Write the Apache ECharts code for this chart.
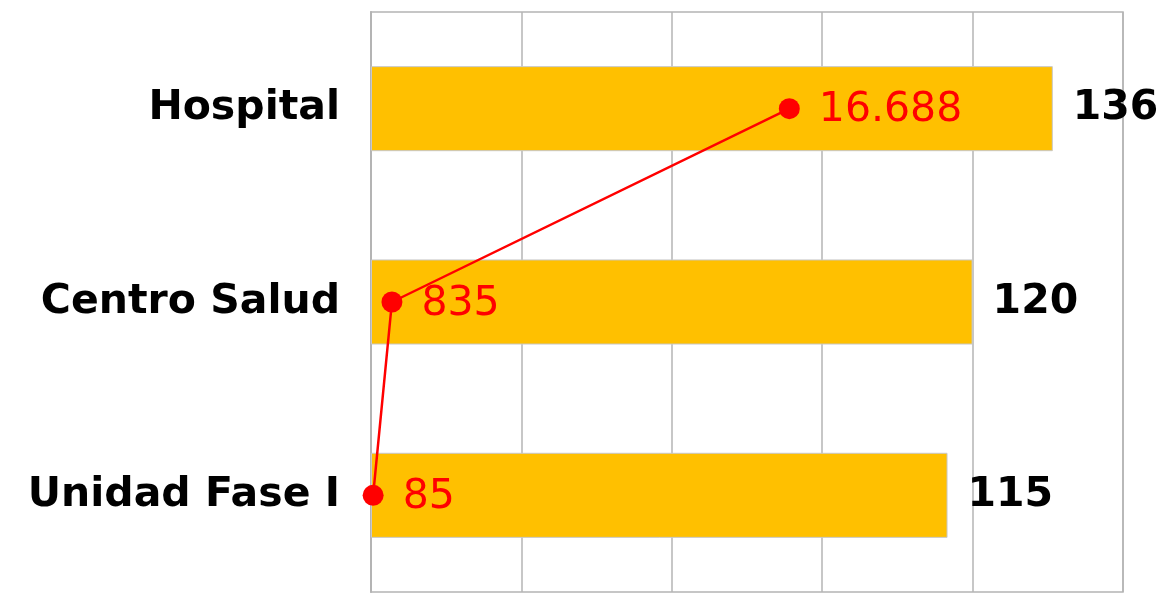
<!DOCTYPE html>
<html>
<head>
<meta charset="utf-8">
<script src="https://cdn.jsdelivr.net/npm/echarts@6/dist/echarts.min.js"></script>
<style>html,body{margin:0;padding:0;background:#fff}#c{width:1163px;height:593px}</style>
</head>
<body>
<div id="c"></div>
<script>
const categories = ['Hospital', 'Centro Salud', 'Unidad Fase I'];
const barValues = [136, 120, 115];
const lineValues = [16688, 835, 85];

function fmtEs(v) {
  return String(v).replace(/\B(?=(\d{3})+(?!\d))/g, '.');
}

const chart = echarts.init(document.getElementById('c'), null, {renderer: 'canvas'});
chart.setOption({
  animation: false,
  backgroundColor: '#ffffff',
  grid: {left: 371, right: 40, top: 12, bottom: 1, show: true, borderColor: '#b4b4b4', borderWidth: 1.5},
  xAxis: [
    {type: 'value', min: 0, max: 150, interval: 30, position: 'bottom',
     axisLabel: {show: false}, axisTick: {show: false}, axisLine: {show: false},
     splitLine: {show: true, lineStyle: {color: '#b4b4b4', width: 1.5}}},
    {type: 'value', min: 0, max: 30000, position: 'top', show: false,
     splitLine: {show: false}}
  ],
  yAxis: {
    type: 'category', data: categories, inverse: true,
    axisTick: {show: false},
    axisLine: {show: true, lineStyle: {color: '#b4b4b4', width: 2}},
    axisLabel: {margin: 31, color: '#000', fontSize: 41, fontWeight: 'bold', fontFamily: 'DejaVu Sans'}
  },
  series: [
    {type: 'bar', data: barValues, xAxisIndex: 0, barWidth: '44%',
     itemStyle: {color: '#FFC000', borderColor: '#c8c8c8', borderWidth: 1},
     label: {show: true, position: 'right', distance: 20, color: '#000', fontSize: 41, fontWeight: 'bold', fontFamily: 'DejaVu Sans'}},
    {type: 'line', data: lineValues, xAxisIndex: 1, z: 5,
     symbol: 'circle', symbolSize: 21,
     lineStyle: {color: '#ff0000', width: 2.5},
     itemStyle: {color: '#ff0000'},
     label: {show: true, position: 'right', distance: 19, offset: [0, 2], color: '#ff0000', fontSize: 41, fontFamily: 'DejaVu Sans',
             formatter: p => fmtEs(p.value)}}
  ]
});
</script>
</body>
</html>
